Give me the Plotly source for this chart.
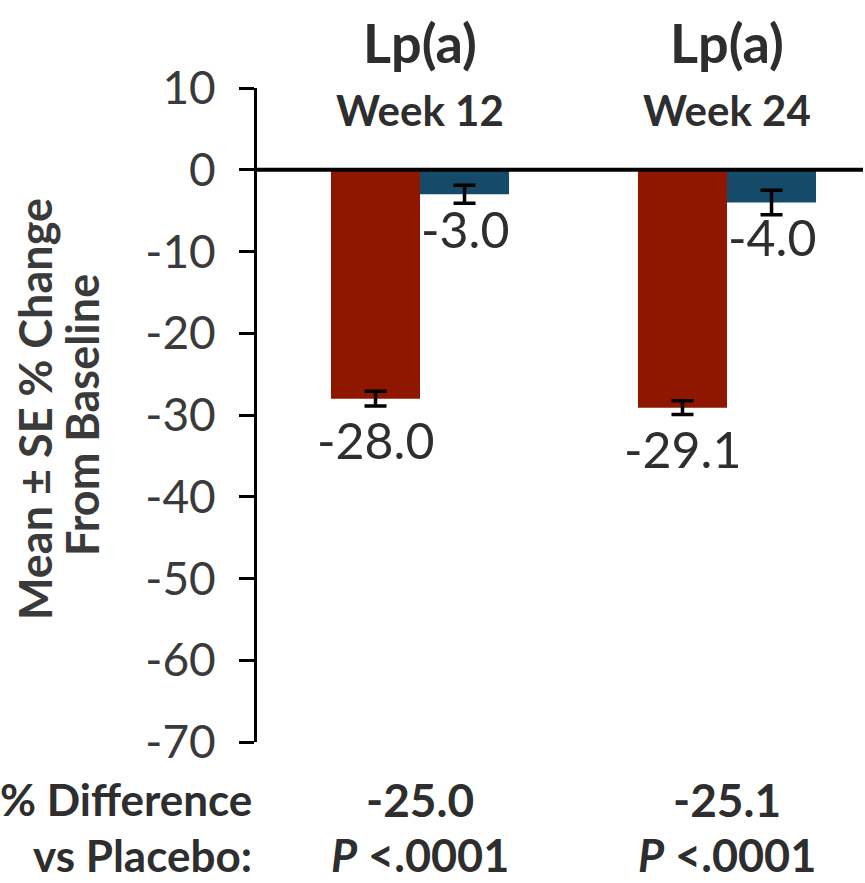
import plotly.graph_objects as go

categories = ["Week 12", "Week 24"]
treat_values = [-28.0, -29.1]
treat_se = [0.9, 0.85]
placebo_values = [-3.0, -4.0]
placebo_se = [1.1, 1.5]
diff_values = ["-25.0", "-25.1"]
p_values = ["<.0001", "<.0001"]
y_ticks = [10, 0, -10, -20, -30, -40, -50, -60, -70]

RED = "#8f1700"
BLUE = "#164a69"
TXT = "#2e2e2e"
FONT = "Lato"

fig = go.Figure()
fig.add_trace(go.Bar(
    x=categories, y=treat_values, marker=dict(color=RED, line=dict(width=0)),
    error_y=dict(type="data", array=treat_se, color="black", thickness=3.5, width=11),
    showlegend=False,
))
fig.add_trace(go.Bar(
    x=categories, y=placebo_values, marker=dict(color=BLUE, line=dict(width=0)),
    error_y=dict(type="data", array=placebo_se, color="black", thickness=3.5, width=11),
    showlegend=False,
))

ann = []
for i, c in enumerate(categories):
    ann.append(dict(x=c, xref="x", y=1, yref="paper", yanchor="middle", yshift=46,
                    text="<b>Lp(a)</b>", showarrow=False,
                    font=dict(size=54, color=TXT, family=FONT)))
    ann.append(dict(x=c, xref="x", y=1, yref="paper", yanchor="middle", yshift=-22,
                    text="<b>%s</b>" % c, showarrow=False,
                    font=dict(size=42, color=TXT, family=FONT)))
    ann.append(dict(x=c, xref="x", xshift=-45, y=treat_values[i], yref="y", yanchor="middle",
                    yshift=-41, text="%.1f" % treat_values[i], showarrow=False,
                    font=dict(size=50, color=TXT, family=FONT)))
    ann.append(dict(x=c, xref="x", xshift=45, y=placebo_values[i], yref="y", yanchor="middle",
                    yshift=-35, text="%.1f" % placebo_values[i], showarrow=False,
                    font=dict(size=50, color=TXT, family=FONT)))
    ann.append(dict(x=c, xref="x", y=0, yref="paper", yanchor="middle", yshift=-57,
                    text="<b>%s</b>" % diff_values[i], showarrow=False,
                    font=dict(size=46, color=TXT, family=FONT)))
    ann.append(dict(x=c, xref="x", y=0, yref="paper", yanchor="middle", yshift=-113,
                    text="<b><i>P</i> %s</b>" % p_values[i], showarrow=False,
                    font=dict(size=45, color=TXT, family=FONT)))

ann.append(dict(x=0, xref="paper", xanchor="right", xshift=-3, y=0, yref="paper",
                yanchor="middle", yshift=-57, text="<b>% Difference</b>", showarrow=False,
                font=dict(size=44, color=TXT, family=FONT)))
ann.append(dict(x=0, xref="paper", xanchor="right", xshift=-3, y=0, yref="paper",
                yanchor="middle", yshift=-113, text="<b>vs Placebo:</b>", showarrow=False,
                font=dict(size=44, color=TXT, family=FONT)))
ann.append(dict(x=0, xref="paper", xanchor="center", xshift=-222, y=0.5, yref="paper",
                yanchor="middle", yshift=6, textangle=-90,
                text="<b>Mean \u00b1 SE % Change</b>",
                showarrow=False, font=dict(size=45, color="#3a3a3a", family=FONT)))
ann.append(dict(x=0, xref="paper", xanchor="center", xshift=-175, y=0.5, yref="paper",
                yanchor="middle", yshift=0, textangle=-90,
                text="<b>From Baseline</b>",
                showarrow=False, font=dict(size=45, color="#3a3a3a", family=FONT)))

fig.update_layout(
    width=865, height=883,
    margin=dict(l=257, r=2, t=88, b=141),
    paper_bgcolor="white", plot_bgcolor="white",
    barmode="group", bargap=0.42, bargroupgap=0,
    annotations=ann,
    shapes=[dict(type="line", xref="paper", x0=0, x1=1, yref="y", y0=0, y1=0,
                 line=dict(color="black", width=4), layer="above")],
    xaxis=dict(range=[-0.531, 1.443], showticklabels=False, showgrid=False,
               zeroline=False, showline=False, ticks=""),
    yaxis=dict(range=[-70, 10], tickvals=y_ticks, ticktext=[str(v) for v in y_ticks],
               showgrid=False, zeroline=False, showline=True, linecolor="black",
               linewidth=3, ticks="outside", ticklen=15, tickwidth=3, tickcolor="black",
               ticklabelstandoff=14,
               tickfont=dict(size=46, color="#3a3a3a", family=FONT)),
)

fig.write_html("out.html")
